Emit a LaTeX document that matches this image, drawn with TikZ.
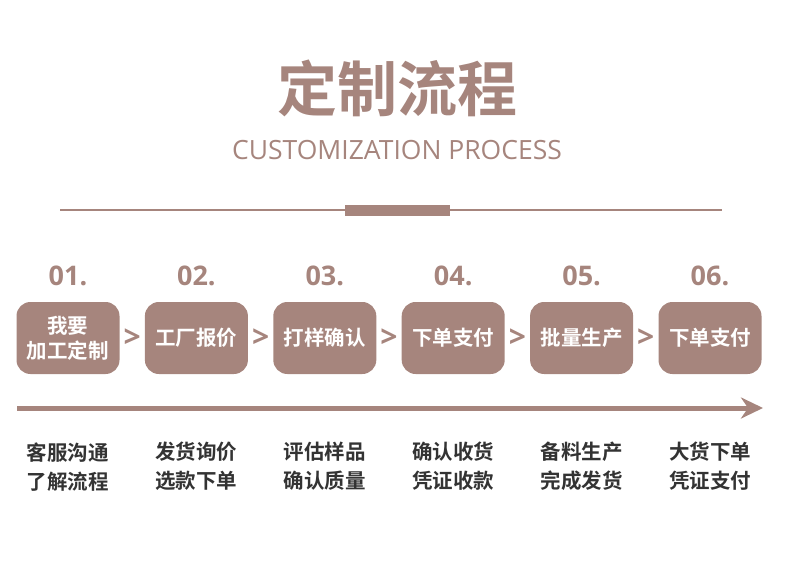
\documentclass[tikz,border=0pt]{standalone}
\usepackage{fontspec}
\setmainfont{Open Sans}
\newfontfamily\cjk{Noto Sans CJK SC}[BoldFont={Noto Sans CJK SC Bold}]
\usepackage{tikz}
\usetikzlibrary{positioning, arrows.meta, calc}
\definecolor{brownrose}{HTML}{A6857D}
\definecolor{darktext}{HTML}{333333}

\begin{document}
\begin{tikzpicture}[x=1pt, y=-1pt]
	% Define styles
	\tikzset{
		stepbox/.style={rectangle, rounded corners=14pt, fill=brownrose, text=white, font=\cjk\bfseries\fontsize{20.5}{25}\selectfont, minimum width=103pt, minimum height=72pt, inner sep=0pt, align=center},
		num/.style={text=brownrose, font=\bfseries\fontsize{27}{30}\selectfont, inner sep=0pt},
		gt/.style={text=brownrose, font=\bfseries\fontsize{30}{30}\selectfont, inner sep=0pt},
		desc/.style={text=darktext, font=\cjk\bfseries\fontsize{20.5}{29}\selectfont, align=center, inner sep=0pt},
		line/.style={draw=brownrose, line width=5pt, -{Stealth[length=22pt, width=21pt, inset=7pt]}}
	}
	\useasboundingbox (0,0) rectangle (790,564);
	
	% Title
	\node[text=brownrose, font=\cjk\bfseries\fontsize{60}{60}\selectfont] (title) at (397,88) {定制流程};
	\node[text=brownrose, font=\fontsize{26.5}{26.5}\selectfont, below=17pt of title] (sub) {CUSTOMIZATION PROCESS};
	\draw[brownrose, line width=1.2pt] (60,210) -- (722,210);
	\fill[brownrose] (345,205) rectangle (450,216);
	
	% Nodes
	\node[stepbox] (s1) at (68,338) {我要\\加工定制};
	\node[stepbox, right=25pt of s1] (s2) {工厂报价};
	\node[stepbox, right=25pt of s2] (s3) {打样确认};
	\node[stepbox, right=25pt of s3] (s4) {下单支付};
	\node[stepbox, right=25pt of s4] (s5) {批量生产};
	\node[stepbox, right=25pt of s5] (s6) {下单支付};
	
	\node[num, above=16pt of s1] (n1) {01.};
	\node[num, above=16pt of s2] (n2) {02.};
	\node[num, above=16pt of s3] (n3) {03.};
	\node[num, above=16pt of s4] (n4) {04.};
	\node[num, above=16pt of s5] (n5) {05.};
	\node[num, above=16pt of s6] (n6) {06.};
	
	\node[gt] (g1) at ($(s1.east)!0.5!(s2.west)$) {>};
	\node[gt] (g2) at ($(s2.east)!0.5!(s3.west)$) {>};
	\node[gt] (g3) at ($(s3.east)!0.5!(s4.west)$) {>};
	\node[gt] (g4) at ($(s4.east)!0.5!(s5.west)$) {>};
	\node[gt] (g5) at ($(s5.east)!0.5!(s6.west)$) {>};
	
	\node[desc, below=68pt of s1] (d1) {客服沟通\\了解流程};
	\node[desc, below=68pt of s2] (d2) {发货询价\\选款下单};
	\node[desc, below=68pt of s3] (d3) {评估样品\\确认质量};
	\node[desc, below=68pt of s4] (d4) {确认收货\\凭证收款};
	\node[desc, below=68pt of s5] (d5) {备料生产\\完成发货};
	\node[desc, below=68pt of s6] (d6) {大货下单\\凭证支付};
	
	% Arrows
	\coordinate (a0) at (17,408);
	\coordinate (a1) at (763,408);
	\path [line] (a0) -- (a1);
\end{tikzpicture}
\end{document}
